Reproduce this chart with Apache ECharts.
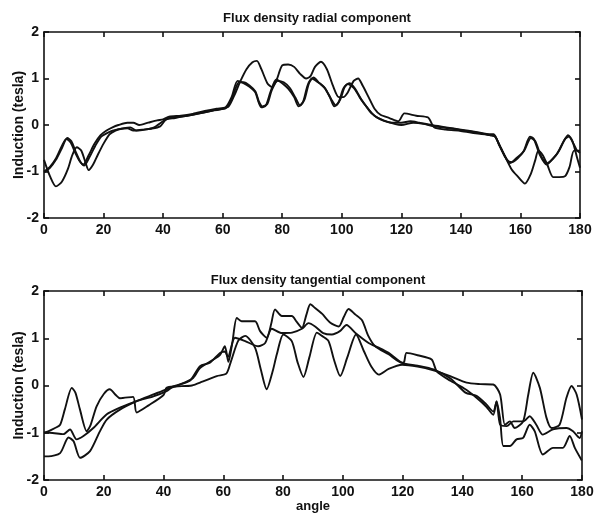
<!DOCTYPE html>
<html>
<head>
<meta charset="utf-8">
<script src="https://cdn.jsdelivr.net/npm/echarts@6/dist/echarts.min.js"></script>
<style>
  html, body { margin: 0; padding: 0; background: #fff; }
  #chart { width: 594px; height: 515px; }
</style>
</head>
<body>
<div id="chart"></div>
<script>
// titles and ticks
var titles = ['Flux density radial component', 'Flux density tangential component'];
var xTicks = [0, 20, 40, 60, 80, 100, 120, 140, 160, 180];
var yTicks = [-2, -1, 0, 1, 2];

// radial component, [angle, induction]
var radialA = [[0,-0.75],[2,-1.1],[4,-1.32],[6,-1.22],[8,-0.95],[9.5,-0.65],[11,-0.48],[12.5,-0.55],[14,-0.82],[15,-0.97],[16.5,-0.85],[18,-0.65],[20,-0.4],[22,-0.2],[24,-0.12],[26,-0.08],[28,-0.07],[30,-0.12],[33,-0.1],[36,-0.08],[39,-0.03],[41,0.12],[44,0.15],[48,0.2],[52,0.25],[56,0.3],[60,0.35],[62,0.4],[64,0.65],[66,0.95],[68,1.2],[70,1.35],[71.5,1.38],[73,1.2],[75,0.9],[76.5,0.82],[78,0.95],[80,1.28],[82,1.3],[84,1.25],[86,1.1],[88,1.0],[89.5,1.05],[91,1.25],[93,1.36],[95,1.2],[97,0.85],[99,0.6],[100.5,0.6],[102,0.7],[104,0.95],[105.5,1.0],[107,0.85],[109,0.6],[111,0.35],[113,0.22],[116,0.15],[119,0.08],[121,0.25],[125,0.2],[129,0.16],[131,-0.05],[135,-0.1],[140,-0.13],[145,-0.18],[150,-0.22],[151.5,-0.25],[153,-0.45],[155,-0.7],[157,-0.95],[159,-1.1],[161.5,-1.26],[163.5,-1.05],[165,-0.75],[166,-0.55],[167.5,-0.65],[169,-0.85],[171,-1.12],[173,-1.12],[175,-1.1],[176.5,-0.9],[178,-0.55],[180,-0.55]];
var radialB = [[0,-1.0],[2,-0.9],[4,-0.72],[6,-0.45],[7.5,-0.3],[9,-0.38],[10.5,-0.6],[12,-0.78],[13.2,-0.85],[15,-0.65],[17,-0.4],[19,-0.22],[21,-0.12],[23,-0.05],[25,0.0],[28,0.05],[30,0.05],[32,0.0],[35,0.05],[38,0.1],[40,0.12],[42,0.18],[46,0.2],[50,0.24],[54,0.3],[58,0.35],[61,0.38],[63,0.6],[65,0.95],[67,0.9],[69,0.82],[71,0.7],[72,0.5],[73,0.38],[74.5,0.42],[76,0.7],[78,0.98],[80,0.9],[82,0.78],[84,0.6],[85.5,0.4],[87,0.5],[88.5,0.85],[90,1.0],[92,0.92],[94,0.82],[96,0.6],[97.5,0.4],[99,0.5],[100.5,0.78],[102,0.88],[104,0.8],[106,0.6],[108,0.42],[110,0.25],[113,0.12],[117,0.05],[120,0.05],[123,0.08],[126,0.05],[130,0.0],[135,-0.05],[140,-0.1],[145,-0.15],[150,-0.2],[151,-0.2],[153,-0.45],[155,-0.7],[156.5,-0.82],[158.5,-0.72],[161,-0.57],[163.2,-0.25],[164.5,-0.3],[166.5,-0.64],[168.8,-0.85],[170.5,-0.75],[172.5,-0.6],[174.5,-0.35],[176,-0.22],[177.5,-0.35],[179,-0.7],[180,-0.92]];
var radialC = [[0,-1.02],[2,-0.92],[4,-0.75],[6,-0.5],[7.8,-0.28],[9.2,-0.35],[10.8,-0.6],[12.3,-0.8],[13.5,-0.87],[15.2,-0.7],[17.2,-0.45],[19.2,-0.25],[21,-0.18],[23,-0.12],[26,-0.08],[29,-0.05],[31,-0.12],[34,-0.1],[37,-0.05],[40,0.08],[42,0.15],[46,0.18],[50,0.22],[54,0.27],[58,0.33],[61,0.36],[63,0.55],[65.5,0.92],[67,0.92],[69,0.85],[71,0.72],[72.2,0.5],[73.3,0.4],[75,0.45],[76.5,0.75],[78.5,0.95],[80.5,0.92],[82.5,0.8],[84.5,0.58],[86,0.42],[87.5,0.55],[89,0.9],[90.5,1.02],[92.5,0.9],[94.5,0.78],[96.5,0.55],[98,0.42],[99.5,0.55],[101,0.82],[102.5,0.9],[104.5,0.78],[106.5,0.55],[108.5,0.38],[111,0.2],[114,0.1],[118,0.02],[120,0.0],[124,0.05],[128,0.02],[131,-0.03],[136,-0.07],[141,-0.12],[146,-0.17],[150,-0.22],[151.5,-0.25],[153.5,-0.5],[155.5,-0.75],[157,-0.8],[159,-0.72],[161.3,-0.55],[163.5,-0.28],[165,-0.35],[167,-0.68],[169,-0.82],[171,-0.72],[173,-0.55],[175,-0.3],[176.3,-0.25],[177.8,-0.4],[179,-0.55],[180,-0.6]];

// tangential component, [angle, induction]
var tangP = [[0,-1.5],[1.5,-1.5],[5.4,-1.43],[8.2,-1.1],[9.9,-1.18],[12.1,-1.53],[15.4,-1.39],[18.7,-0.97],[21,-0.72],[25.4,-0.51],[31,-0.33],[36.6,-0.19],[41,-0.08],[45.5,0.02],[49.9,0.16],[52.2,0.37],[56.7,0.55],[58.9,0.65],[60.5,0.83],[61.7,0.5],[63,0.9],[64.5,1.43],[66.1,1.36],[70.6,1.36],[72.3,1.15],[74.5,1.01],[76,1.3],[77.3,1.61],[79.6,1.47],[82.9,1.47],[84.5,1.35],[86.3,1.22],[87.8,1.5],[89.1,1.72],[90.7,1.64],[93,1.52],[95.8,1.33],[98.6,1.25],[100.3,1.45],[101.9,1.62],[104.2,1.5],[106.4,1.38],[108.5,1.05],[110.8,0.83],[115.3,0.66],[119.8,0.48],[120.5,0.5],[121.3,0.69],[125,0.64],[129.7,0.55],[131.4,0.3],[136,0.1],[141,-0.08],[144.7,-0.26],[148,-0.45],[150.3,-0.62],[151.4,-0.33],[152.6,-0.7],[153.7,-1.28],[155.9,-1.28],[158.1,-1.14],[160.3,-1.11],[162.5,-0.83],[164.2,-0.97],[166.9,-1.46],[170.3,-1.32],[173.6,-1.32],[175.9,-1.07],[177.6,-1.32],[179.8,-1.57],[180,-1.58]];
var tangQ = [[0,-1.0],[2,-1.0],[6.5,-1.03],[8.7,-0.93],[10.9,-1.14],[13.2,-1.07],[16.5,-0.9],[21,-0.61],[25.4,-0.47],[31,-0.33],[36.6,-0.23],[41,-0.12],[43.2,-0.02],[48.8,0.1],[52.2,0.41],[55.5,0.48],[58.9,0.69],[60.5,0.72],[61.5,0.6],[63.9,1.01],[67.3,0.94],[71.7,0.83],[74,0.9],[76.2,1.2],[79.6,1.11],[83,1.12],[86.3,1.2],[88.5,1.32],[90.7,1.25],[93.4,1.11],[96.3,1.08],[99,1.15],[101.2,1.28],[104.4,1.1],[108.6,0.9],[112,0.8],[115.3,0.69],[119.8,0.48],[125,0.42],[130.3,0.34],[136,0.15],[141,-0.15],[144.7,-0.22],[148,-0.4],[150.3,-0.55],[151.4,-0.35],[152.6,-0.83],[154.8,-0.86],[157,-0.76],[160.3,-0.76],[162.5,-0.65],[164.7,-0.83],[166.9,-1.04],[170.3,-0.93],[174.8,-0.9],[177,-0.97],[179.2,-1.11],[180,-0.97]];
var tangR = [[0,-1.0],[1.4,-0.97],[3.7,-0.9],[5.4,-0.83],[7,-0.5],[9.3,-0.05],[10.5,-0.15],[12,-0.5],[14.3,-0.97],[15.5,-0.85],[17.6,-0.44],[20,-0.18],[22,-0.08],[24,-0.2],[25.4,-0.27],[29.8,-0.24],[31,-0.57],[35,-0.42],[40,-0.2],[41,-0.05],[44,-0.02],[49.5,0.0],[53,0.08],[57.8,0.2],[61,0.25],[62.5,0.5],[65,0.95],[67.3,1.05],[70.6,0.8],[72.5,0.35],[74.5,-0.08],[76.5,0.3],[77.9,0.66],[80.1,1.08],[82.9,0.94],[84.8,0.5],[86.8,0.18],[88.8,0.6],[91.3,1.12],[93,1.05],[95.2,0.94],[97,0.55],[99.1,0.2],[101.5,0.6],[104.4,1.08],[107,0.73],[109.5,0.4],[112,0.23],[115.3,0.35],[119.8,0.44],[125,0.4],[130.3,0.32],[135.9,0.2],[141.4,0.06],[146,0.03],[150.3,0.02],[152.6,-0.19],[154.2,-0.83],[155.9,-0.76],[157.5,-0.9],[160.3,-0.76],[162,-0.2],[163.7,0.27],[165.9,-0.05],[168.1,-0.68],[169.8,-0.9],[172.5,-0.83],[174.8,-0.26],[176.5,-0.01],[178.2,-0.19],[180,-0.72]];

var chart = echarts.init(document.getElementById('chart'));
var font = 'Liberation Sans, Arial, sans-serif';

function xAx(idx, top, withName) {
    return {
        type: 'value', gridIndex: idx, min: 0, max: 180, interval: 20,
        position: top ? 'top' : 'bottom',
        name: withName ? 'angle' : '', nameLocation: 'middle', nameGap: 19,
        nameTextStyle: { fontFamily: font, fontWeight: 'bold', fontSize: 13, color: '#111' },
        axisLine: { show: true, onZero: false, lineStyle: { color: '#111', width: 1.6 } },
        axisTick: { show: true, inside: true, length: 5, lineStyle: { color: '#111', width: 1.6 } },
        axisLabel: { show: !top, fontFamily: font, fontWeight: 'bold', fontSize: 14, color: '#111', margin: 5 },
        splitLine: { show: false }
    };
}
function yAx(idx, right) {
    return {
        type: 'value', gridIndex: idx, min: -2, max: 2, interval: 1,
        position: right ? 'right' : 'left',
        name: right ? '' : 'Induction (tesla)', nameLocation: 'middle', nameGap: 18,
        nameMoveOverlap: false,
        nameTextStyle: { fontFamily: font, fontWeight: 'bold', fontSize: 14, color: '#111' },
        axisLine: { show: true, onZero: false, lineStyle: { color: '#111', width: 1.6 } },
        axisTick: { show: true, inside: true, length: 5, lineStyle: { color: '#111', width: 1.6 } },
        axisLabel: { show: !right, fontFamily: font, fontWeight: 'bold', fontSize: 14, color: '#111', margin: 5 },
        splitLine: { show: false }
    };
}
function line(data, xi, yi) {
    return {
        type: 'line', data: data, xAxisIndex: xi, yAxisIndex: yi,
        showSymbol: false, smooth: 0.25, animation: false,
        lineStyle: { color: '#111', width: 1.9 }
    };
}

var option = {
    backgroundColor: '#fff',
    title: [
        { text: titles[0], left: 312, top: 7, textAlign: 'center',
          textStyle: { fontFamily: font, fontWeight: 'bold', fontSize: 13, color: '#111' } },
        { text: titles[1], left: 313, top: 269, textAlign: 'center',
          textStyle: { fontFamily: font, fontWeight: 'bold', fontSize: 13, color: '#111' } }
    ],
    grid: [
        { left: 44, top: 32, width: 536, height: 186, outerBoundsMode: 'none' },
        { left: 44, top: 291, width: 538, height: 189, outerBoundsMode: 'none' }
    ],
    xAxis: [xAx(0, false, false), xAx(1, false, true), xAx(0, true, false), xAx(1, true, false)],
    yAxis: [yAx(0, false), yAx(1, false), yAx(0, true), yAx(1, true)],
    series: [
        line(radialA, 0, 0), line(radialB, 0, 0), line(radialC, 0, 0),
        line(tangP, 1, 1), line(tangQ, 1, 1), line(tangR, 1, 1)
    ]
};
chart.setOption(option);
</script>
</body>
</html>
